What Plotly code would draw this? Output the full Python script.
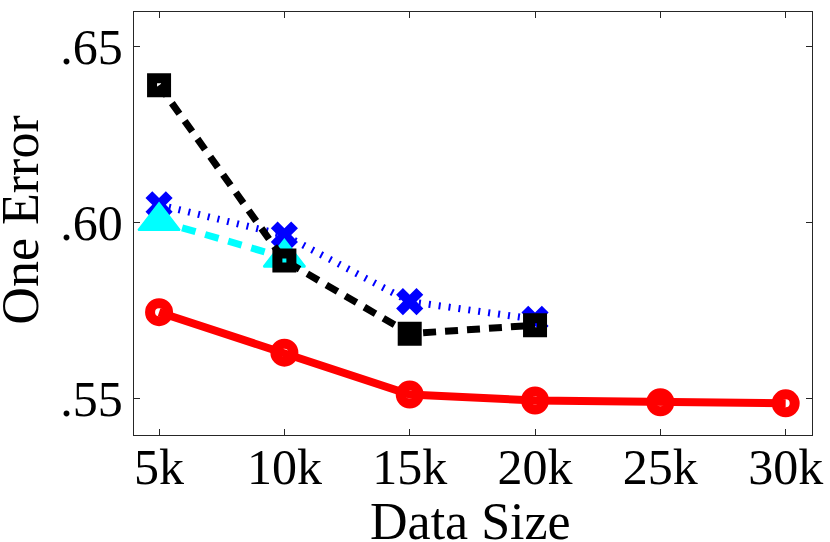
import plotly.graph_objects as go

data_size = [5, 10, 15, 20, 25, 30]
x_tick_vals = [5, 10, 15, 20, 25, 30]
x_tick_text = ["5k", "10k", "15k", "20k", "25k", "30k"]
y_tick_vals = [0.55, 0.60, 0.65]
y_tick_text = [".55", ".60", ".65"]
x_title = "Data Size"
y_title = "One Error"

red_vals = [0.5745, 0.5630, 0.5511, 0.5494, 0.5489, 0.5486]
black_vals = [0.6390, 0.5892, 0.5684, 0.5708]
blue_vals = [0.6050, 0.5964, 0.5775, 0.5725]
cyan_vals = [0.6004, 0.5900]

FONT = "Liberation Serif"

fig = go.Figure()

fig.add_trace(go.Scatter(
    x=data_size, y=red_vals, mode="lines+markers",
    line=dict(color="#ff0000", width=8),
    marker=dict(symbol="circle-open", size=18, color="#ff0000",
                line=dict(color="#ff0000", width=10)),
    showlegend=False))

fig.add_trace(go.Scatter(
    x=data_size[:4], y=blue_vals, mode="lines+markers",
    line=dict(color="#0000ff", width=7, dash="2px,8px"),
    marker=dict(symbol="x", size=24, color="#0000ff"),
    showlegend=False))

fig.add_trace(go.Scatter(
    x=data_size[:2], y=cyan_vals, mode="lines+markers",
    line=dict(color="#00ffff", width=7, dash="14px,10px"),
    marker=dict(symbol="triangle-up", size=36, color="#00ffff",
                line=dict(color="#00ffff", width=2)),
    showlegend=False))

fig.add_trace(go.Scatter(
    x=data_size[:4], y=black_vals, mode="lines+markers",
    line=dict(color="#000000", width=7, dash="13px,9px"),
    marker=dict(symbol="square-open", size=14, color="#000000",
                line=dict(color="#000000", width=10)),
    showlegend=False))

axis_common = dict(
    showline=True, linecolor="#262626", linewidth=1.3, mirror="ticks",
    ticks="inside", ticklen=6, tickwidth=1.3, tickcolor="#262626",
    showgrid=False, zeroline=False,
    tickfont=dict(family=FONT, size=50, color="black"),
)

fig.update_xaxes(
    range=[4.0, 31.05], tickvals=x_tick_vals, ticktext=x_tick_text,
    ticklabelstandoff=-12,
    **axis_common)
fig.update_yaxes(
    range=[0.5396, 0.6598], tickvals=y_tick_vals, ticktext=y_tick_text,
    **axis_common)

fig.add_annotation(
    text=x_title, xref="paper", yref="paper", x=0.4963, y=-0.205,
    xanchor="center", yanchor="middle", showarrow=False,
    font=dict(family=FONT, size=52, color="black"))
fig.add_annotation(
    text=y_title, xref="paper", yref="paper", x=-0.168, y=0.507,
    xanchor="center", yanchor="middle", showarrow=False, textangle=-90,
    font=dict(family=FONT, size=52, color="black"))

fig.update_layout(
    width=830, height=542,
    margin=dict(l=134, r=18, t=12, b=107, autoexpand=False),
    paper_bgcolor="white", plot_bgcolor="white",
)

fig.write_html("out.html", config={"displayModeBar": False},
               post_script="document.body.style.margin='0';document.body.style.overflow='hidden';")
